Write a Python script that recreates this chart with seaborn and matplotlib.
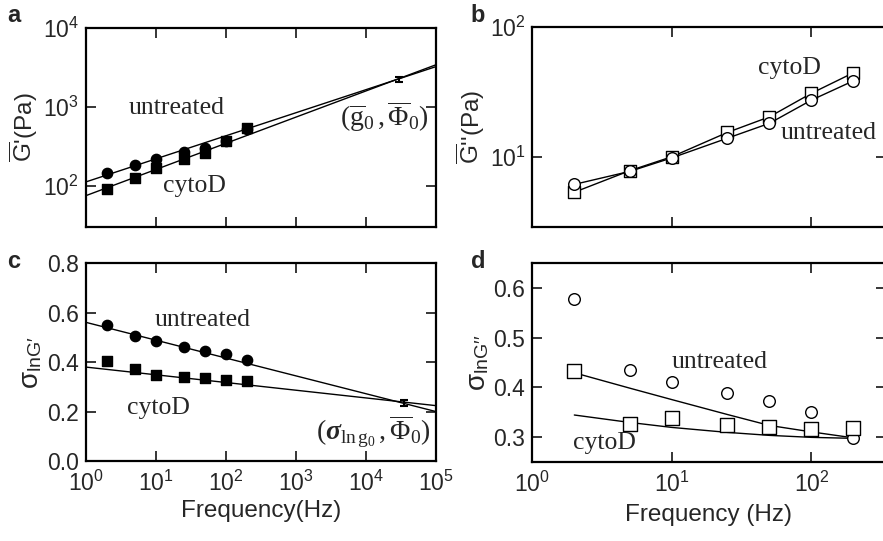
import numpy as np
import pandas as pd
import matplotlib
matplotlib.use("Agg")
import matplotlib.pyplot as plt
import matplotlib.ticker as mticker
import seaborn as sns

sns.set_style("ticks")
plt.rcParams["font.family"] = ["Liberation Sans", "DejaVu Sans"]
plt.rcParams["mathtext.fontset"] = "custom"
plt.rcParams["mathtext.rm"] = "Liberation Serif"
plt.rcParams["mathtext.it"] = "Liberation Serif:italic"
plt.rcParams["mathtext.bf"] = "Liberation Serif:bold:italic"
plt.rcParams["mathtext.sf"] = "Liberation Sans"

# measurement frequencies (Hz)
freq = [2, 5, 10, 25, 50, 100, 200]
fit_freq = [1, 1e5]

# panel a: storage modulus G' (Pa)
a_untreated = [145, 185, 218, 268, 305, 370, 525]
a_cytod = [91, 125, 166, 220, 262, 372, 540]
a_fit_untreated = [112, 3240]
a_fit_cytod = [75, 3420]
a_point = (2.95e4, 2250)
a_point_err = 170

# panel b: loss modulus G'' (Pa)
b_untreated = [6.2, 7.8, 9.9, 14.0, 18.2, 27.4, 38.5]
b_cytod = [5.4, 7.9, 10.1, 15.5, 20.4, 30.9, 44.4]

# panel c: sigma lnG'
c_untreated = [0.549, 0.504, 0.484, 0.461, 0.446, 0.433, 0.408]
c_cytod = [0.403, 0.372, 0.348, 0.339, 0.335, 0.329, 0.323]
c_fit_untreated = [0.561, 0.200]
c_fit_cytod = [0.380, 0.224]
c_point = (3.5e4, 0.236)
c_point_err = 0.012

# panel d: sigma lnG''
d_untreated = [0.577, 0.435, 0.410, 0.389, 0.373, 0.351, 0.298]
d_cytod = [0.433, 0.325, 0.337, 0.323, 0.320, 0.315, 0.317]
d_fit_upper = [0.429, 0.398, 0.375, 0.345, 0.323, 0.310, 0.298]
d_fit_lower = [0.344, 0.329, 0.319, 0.309, 0.303, 0.299, 0.297]

W, H = 883, 541
fig = plt.figure(figsize=(W / 100, H / 100), dpi=100)


def box(x0, y0, x1, y1):
    return [x0 / W, 1 - y1 / H, (x1 - x0) / W, (y1 - y0) / H]


ax_a = fig.add_axes(box(86, 28, 436, 227))
ax_c = fig.add_axes(box(86, 263.3, 436, 461))
ax_b = fig.add_axes(box(532.3, 26.7, 885.6, 226.7))
ax_d = fig.add_axes(box(532.3, 263, 885.6, 461.7))

TICK_FS = 16.5
LAB_FS = 17.5
TXT = dict(family="Liberation Serif", fontsize=18.5, ha="center", va="center")
PRIME = "\u2032"


def style(ax):
    ax.tick_params(direction="in", top=True, right=True, length=7, width=1.3,
                   labelsize=TICK_FS, pad=5)
    ax.tick_params(axis="x", pad=7)
    ax.tick_params(which="minor", length=0)
    for s in ax.spines.values():
        s.set_linewidth(1.6)
        s.set_color("black")


def line(ax, x, y):
    sns.lineplot(x=x, y=y, ax=ax, color="black", lw=1.0, sort=False,
                 estimator=None, legend=False)


def dots(ax, x, y, marker, filled, size):
    sns.scatterplot(x=x, y=y, ax=ax, marker=marker, s=size,
                    color="black" if filled else "white",
                    edgecolor="black", linewidth=1.0, zorder=5, legend=False)


# ---- panel a
for ax in (ax_a, ax_c):
    ax.set_xscale("log")
    ax.set_xlim(1, 1e5)
    ax.xaxis.set_major_locator(mticker.LogLocator(base=10, numticks=12))
ax_a.set_yscale("log")
ax_a.set_ylim(30, 1e4)
line(ax_a, fit_freq, a_fit_untreated)
line(ax_a, fit_freq, a_fit_cytod)
dots(ax_a, freq, a_untreated, "o", True, 55)
dots(ax_a, freq, a_cytod, "s", True, 60)
ax_a.errorbar([a_point[0]], [a_point[1]], yerr=a_point_err, fmt="none",
              ecolor="black", capsize=3, elinewidth=1.5, capthick=1.5)
ax_a.text(0.259, 0.598, "untreated", transform=ax_a.transAxes, **TXT)
ax_a.text(0.311, 0.206, "cytoD", transform=ax_a.transAxes, **TXT)
ax_a.text(0.854, 0.553, r"$(\overline{\mathrm{g}}_0\,,\overline{\Phi}_0)$",
          transform=ax_a.transAxes, **dict(TXT, fontsize=20))
ax_a.set_ylabel(r"$\overline{\mathsf{G}}$'(Pa)", fontsize=LAB_FS, labelpad=2)
ax_a.tick_params(labelbottom=False)

# ---- panel c
ax_c.set_ylim(0, 0.8)
ax_c.set_yticks([0.0, 0.2, 0.4, 0.6, 0.8])
ax_c.yaxis.set_major_formatter(mticker.FormatStrFormatter("%.1f"))
line(ax_c, fit_freq, c_fit_untreated)
line(ax_c, fit_freq, c_fit_cytod)
dots(ax_c, freq, c_untreated, "o", True, 55)
dots(ax_c, freq, c_cytod, "s", True, 60)
ax_c.errorbar([c_point[0]], [c_point[1]], yerr=c_point_err, fmt="none",
              ecolor="black", capsize=3, elinewidth=1.5, capthick=1.5)
ax_c.text(0.334, 0.713, "untreated", transform=ax_c.transAxes, **TXT)
ax_c.text(0.206, 0.266, "cytoD", transform=ax_c.transAxes, **TXT)
ax_c.text(0.82, 0.148, r"$(\mathbf{\sigma}_{\ln \mathrm{g}_0}\,,\overline{\Phi}_0)$",
          transform=ax_c.transAxes, **dict(TXT, fontsize=20))
ax_c.set_ylabel("σ$_{\\mathsf{lnG" + PRIME + "}}$", fontsize=20, labelpad=2)
ax_c.set_xlabel("Frequency(Hz)", fontsize=LAB_FS, labelpad=3)

# ---- panel b
for ax in (ax_b, ax_d):
    ax.set_xscale("log")
    ax.set_xlim(1, 340)
ax_b.set_yscale("log")
ax_b.set_ylim(2.94, 100)
line(ax_b, freq, b_untreated)
line(ax_b, freq, b_cytod)
dots(ax_b, freq, b_cytod, "s", False, 75)
dots(ax_b, freq, b_untreated, "o", False, 70)
ax_b.text(0.729, 0.792, "cytoD", transform=ax_b.transAxes, **TXT)
ax_b.text(0.838, 0.467, "untreated", transform=ax_b.transAxes, **TXT)
ax_b.set_ylabel("$\\overline{\\mathsf{G}}$''(Pa)", fontsize=LAB_FS, labelpad=2)
ax_b.tick_params(labelbottom=False)

# ---- panel d
ax_d.set_ylim(0.25, 0.65)
ax_d.set_yticks([0.3, 0.4, 0.5, 0.6])
ax_d.yaxis.set_major_formatter(mticker.FormatStrFormatter("%.1f"))
line(ax_d, freq, d_fit_upper)
line(ax_d, freq, d_fit_lower)
dots(ax_d, freq, d_untreated, "o", False, 70)
dots(ax_d, freq, d_cytod, "s", False, 90)
ax_d.text(0.531, 0.503, "untreated", transform=ax_d.transAxes, **TXT)
ax_d.text(0.205, 0.094, "cytoD", transform=ax_d.transAxes, **TXT)
ax_d.set_ylabel("σ$_{\\mathsf{lnG" + PRIME + PRIME + "}}$", fontsize=20, labelpad=2)
ax_d.set_xlabel("Frequency (Hz)", fontsize=LAB_FS, labelpad=5)

for ax in (ax_a, ax_b, ax_c, ax_d):
    style(ax)
    ax.xaxis.set_minor_locator(mticker.NullLocator())
ax_a.yaxis.set_minor_locator(mticker.NullLocator())
ax_b.yaxis.set_minor_locator(mticker.NullLocator())

for lab, (x, y) in zip("abcd", [(14, 16), (478, 15), (14, 262), (478, 262)]):
    fig.text(x / W, 1 - y / H, lab, fontsize=17, fontweight="bold",
             ha="center", va="center")

fig.savefig("out.png", dpi=100)
